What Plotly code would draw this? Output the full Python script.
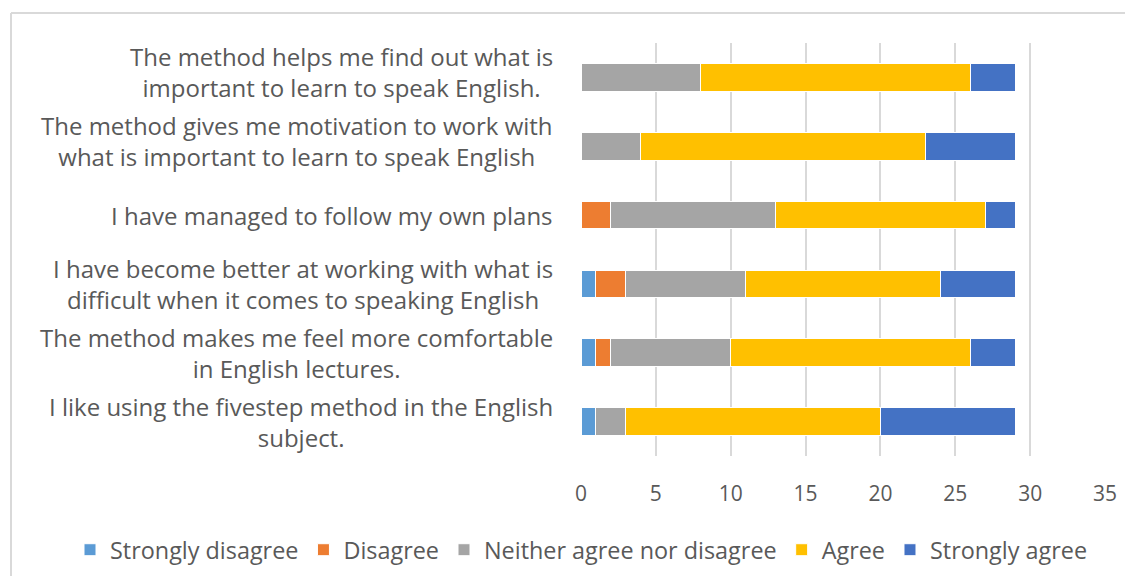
import plotly.graph_objects as go

# survey statements, top to bottom as shown
statements = [
    "The method helps me find out what is<br>important to learn to speak English.",
    "The method gives me motivation to work with<br>what is important to learn to speak English",
    "I have managed to follow my own plans",
    "I have become better at working with what is<br>difficult when it comes to speaking English",
    "The method makes me feel more comfortable<br>in English lectures.",
    "I like using the fivestep method in the English<br>subject.",
]
row_ids = ["q1", "q2", "q3", "q4", "q5", "q6"]

strongly_disagree = [0, 0, 0, 1, 1, 1]
disagree = [0, 0, 2, 2, 1, 0]
neither = [8, 4, 11, 8, 8, 2]
agree = [18, 19, 14, 13, 16, 17]
strongly_agree = [3, 6, 2, 5, 3, 9]

series = [
    ("Strongly disagree", strongly_disagree, "#5B9BD5"),
    ("Disagree", disagree, "#ED7D31"),
    ("Neither agree nor disagree", neither, "#A5A5A5"),
    ("Agree", agree, "#FFC000"),
    ("Strongly agree", strongly_agree, "#4472C4"),
]

FONT = "Open Sans"
TXT = "#595959"

# page body adds 8px margin, so figure is a bit smaller than the window
W, H = 1117, 568
L, T, PW, PH = 573, 35, 524, 413

fig = go.Figure()
for name, vals, col in series:
    fig.add_trace(go.Bar(
        y=row_ids, x=vals, name=name, orientation="h",
        marker=dict(color=col, line=dict(color="white", width=1)),
    ))

# category labels as annotations so multi-line text is centred like Excel
shifts = [5, 5, 0, 0, 0, 0]
for rid, txt, s in zip(row_ids, statements, shifts):
    fig.add_annotation(
        x=0, xref="paper", y=rid, yref="y", text=txt, showarrow=False,
        xanchor="right", xshift=-26, yshift=s, align="center",
        font=dict(family=FONT, size=24, color=TXT),
    )

# chart border (top and left edges visible in the frame)
bx = (3 - L) / PW
by = 1 + (T - 5) / PH
fig.add_shape(type="line", xref="paper", yref="paper",
              x0=bx, x1=(W + 5 - L) / PW, y0=by, y1=by,
              line=dict(color="#D9D9D9", width=2))
fig.add_shape(type="line", xref="paper", yref="paper",
              x0=bx, x1=bx, y0=by, y1=-(H - T - PH + 5) / PH,
              line=dict(color="#D9D9D9", width=2))

fig.update_layout(
    width=W, height=H,
    barmode="stack", bargap=0.6,
    plot_bgcolor="white", paper_bgcolor="white",
    margin=dict(l=L, r=W - L - PW, t=T, b=H - T - PH, autoexpand=False),
    font=dict(family=FONT, size=21, color=TXT),
    showlegend=True,
    legend=dict(
        orientation="h", xref="paper", yref="paper",
        x=(62 - L) / PW, y=-(542 - T - PH) / PH,
        xanchor="left", yanchor="middle",
        font=dict(family=FONT, size=23.4, color=TXT),
        itemwidth=30, traceorder="normal", tracegroupgap=0,
    ),
    xaxis=dict(
        range=[0, 35], dtick=5, tick0=0,
        showgrid=True, gridcolor="#D9D9D9", gridwidth=2,
        zeroline=False, showline=False,
        tickfont=dict(family=FONT, size=21, color=TXT),
        ticklabelstandoff=23,
    ),
    yaxis=dict(
        autorange="reversed", showticklabels=False,
        showgrid=False, zeroline=False, showline=False,
    ),
)

fig.write_html("out.html")
